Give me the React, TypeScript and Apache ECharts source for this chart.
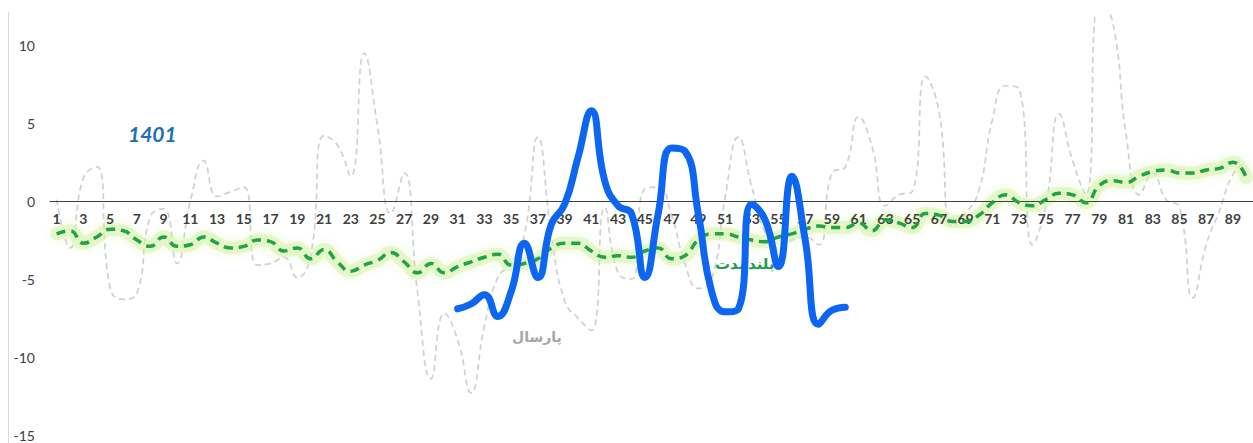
import React, { useEffect, useRef } from "react";
import * as echarts from "echarts";

const categories: string[] = Array.from({ length: 90 }, (_, i) => String(i + 1));

// پارسال (last year)
const lastYear: number[] = [
  0.1, -3.0, 1.5, 2.2, -5.6, -6.3, -5.9, -1.0, -0.5, -4.0,
  0.0, 2.6, 0.3, 0.6, 0.9, -4.1, -4.0, -3.6, -4.9, -3.5,
  4.2, 3.6, 1.6, 9.5, 4.8, -0.8, 1.8, -5.9, -11.4, -7.2,
  -8.9, -12.3, -8.0, -4.9, -4.0, -2.1, 4.1, -2.1, -6.4, -7.5,
  -8.3, -0.4, -4.6, -5.0, 0.8, 0.9, -0.9, -4.0, -5.6, -5.0,
  0.2, 4.1, 0.9, -2.0, -3.0, -2.5, -2.3, -2.8, 1.8, 2.2,
  5.4, 3.5, -0.3, 0.4, 0.6, 8.0, 5.8, -1.6, -0.8, 0.7,
  5.2, 7.4, 7.2, -2.8, -0.3, 5.6, 2.6, 0.4, 12.8, 11.5,
  4.3, 0.4, 1.8, 0.1, -0.4, -6.2, -2.8, -0.6, 1.7, 2.5,
];

// بلندمدت (long-term)
const longTerm: number[] = [
  -2.1, -1.9, -2.7, -2.3, -1.8, -1.9, -2.5, -2.9, -2.3, -2.9,
  -2.8, -2.3, -2.7, -3.0, -2.9, -2.5, -2.6, -3.2, -3.0, -3.7,
  -3.1, -3.9, -4.5, -4.1, -3.8, -3.3, -3.9, -4.6, -4.0, -4.6,
  -4.2, -3.9, -3.6, -3.4, -4.1, -4.0, -3.7, -3.0, -2.7, -2.7,
  -3.2, -3.6, -3.5, -3.6, -3.2, -3.0, -3.7, -3.5, -2.5, -2.1,
  -2.1, -2.3, -2.5, -2.6, -2.3, -2.1, -1.8, -1.6, -1.7, -1.7,
  -1.4, -1.9, -1.2, -1.4, -1.7, -0.8, -0.9, -1.3, -1.3, -0.9,
  -0.1, 0.4, -0.1, -0.3, 0.1, 0.5, 0.4, -0.1, 1.0, 1.3,
  1.2, 1.6, 1.9, 2.0, 1.8, 1.8, 2.0, 2.1, 2.5, 1.5,
];

// 1401 — starts at category 31
const year1401Start = 31;
const year1401: number[] = [
  -6.9, -6.6, -6.0, -7.4, -5.8, -2.7, -4.9, -1.5, -0.2, 2.8,
  5.8, 1.3, -0.3, -0.8, -4.9, -0.8, 3.4, 3.2, -0.8, -5.8,
  -7.1, -6.9, -0.2, -1.2, -4.2, 1.6, -2.5, -7.9, -7.0, -6.8,
];

const yTicks = { min: -15, max: 12, interval: 5 };

const GRID_TOP = 14;
const GRID_BOTTOM = 8;
const CHART_H = 443;

export default function App() {
  const ref = useRef<HTMLDivElement>(null);

  useEffect(() => {
    if (!ref.current) return;
    const chart = echarts.init(ref.current, undefined, { renderer: "svg" });

    const blueData: (number | null)[] = categories.map((_, i) => {
      const k = i + 1 - year1401Start;
      return k >= 0 && k < year1401.length ? year1401[k] : null;
    });

    const plotH = CHART_H - GRID_TOP - GRID_BOTTOM;
    // move the category axis (line + labels) from the bottom edge up to value 0
    const zeroOffset = -(plotH * (0 - yTicks.min)) / (yTicks.max - yTicks.min);

    chart.setOption({
      animation: false,
      backgroundColor: "#ffffff",
      grid: {
        left: 50,
        right: 0,
        top: GRID_TOP,
        bottom: GRID_BOTTOM,
        outerBoundsMode: "none",
        containLabel: false,
      },
      xAxis: {
        type: "category",
        data: categories,
        boundaryGap: true,
        position: "bottom",
        offset: zeroOffset,
        z: 2.5,
        axisLine: { onZero: false, lineStyle: { color: "#404040", width: 1 } },
        axisTick: { show: false },
        axisLabel: {
          interval: 1,
          color: "#404040",
          fontFamily: "Lato",
          fontWeight: "bold",
          fontSize: 14,
          margin: 10,
        },
        splitLine: { show: false },
      },
      yAxis: {
        type: "value",
        min: yTicks.min,
        max: yTicks.max,
        interval: yTicks.interval,
        axisLine: { show: false },
        axisTick: { show: false },
        splitLine: { show: false },
        axisLabel: {
          showMaxLabel: false,
          color: "#404040",
          fontFamily: "Lato",
          fontSize: 14,
          margin: 15,
        },
      },
      graphic: [
        {
          type: "line",
          shape: { x1: 8.5, y1: 12, x2: 8.5, y2: 443 },
          style: { stroke: "#D9D9D9", lineWidth: 1 },
          silent: true,
        },
        {
          type: "text",
          left: 128,
          top: 123,
          style: {
            text: "1401",
            fill: "#1F6FB5",
            font: "italic bold 21px Lato",
          },
        },
        {
          type: "text",
          left: 512,
          top: 330,
          style: {
            text: "پارسال",
            fill: "#A6A6A6",
            font: "bold 14px 'DejaVu Sans'",
          },
        },
        {
          type: "text",
          left: 715,
          top: 256,
          style: {
            text: "بلندمدت",
            fill: "#1E9E4A",
            font: "bold 15px 'DejaVu Sans'",
          },
        },
      ],
      series: [
        {
          name: "پارسال",
          type: "line",
          data: lastYear,
          smooth: 0.5,
          symbol: "none",
          z: 1,
          lineStyle: { color: "#D0D0D0", width: 1.7, type: [6, 4] },
        },
        {
          name: "glow",
          type: "line",
          data: longTerm,
          smooth: 0.5,
          symbol: "none",
          z: 2,
          silent: true,
          lineStyle: {
            color: "rgba(215,243,170,0.5)",
            width: 13,
            cap: "round",
            shadowColor: "rgba(200,238,140,0.65)",
            shadowBlur: 9,
          },
        },
        {
          name: "بلندمدت",
          type: "line",
          data: longTerm,
          smooth: 0.5,
          symbol: "none",
          z: 3,
          lineStyle: { color: "#1FA24A", width: 3.5, type: [9, 6] },
        },
        {
          name: "1401",
          type: "line",
          data: blueData,
          smooth: 0.5,
          symbol: "none",
          connectNulls: false,
          z: 4,
          lineStyle: { color: "#0D66F2", width: 7, cap: "round", join: "round" },
        },
      ],
    });

    return () => chart.dispose();
  }, []);

  return (
    <div
      ref={ref}
      style={{ position: "absolute", left: 0, top: 0, width: 1253, height: 443 }}
    />
  );
}
